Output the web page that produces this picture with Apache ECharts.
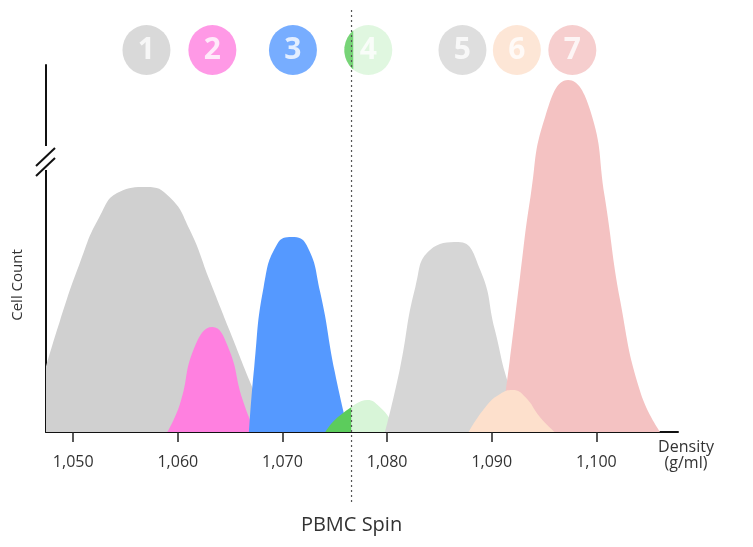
<!DOCTYPE html>
<html>
<head>
<meta charset="UTF-8">
<script src="https://cdn.jsdelivr.net/npm/echarts@6.0.0/dist/echarts.min.js"></script>
</head>
<body style="margin:0">
<div id="main" style="width:753px;height:547px;"></div>
<script>
// density peaks, [density, cell count]
var cells1 = [[1047.3,62],[1048.7,110],[1050.6,168],[1052.5,215],[1054.4,240],[1057.0,245],[1059.2,235],[1061.1,203],[1063.1,150],[1065.0,100],[1066.9,50],[1068.3,15],[1069.2,0]];
var cells2 = [[1059.0,0],[1060.2,28],[1061.6,85],[1063.3,105],[1064.8,85],[1066.2,32],[1067.4,0]];
var cells3 = [[1066.8,0],[1067.3,65],[1068.2,145],[1069.5,188],[1070.9,195],[1072.3,187],[1073.6,140],[1075.0,60],[1076.3,0]];
var cells4a = [[1074.1,0],[1075.0,12],[1076.6,25]];
var cells4b = [[1076.6,25],[1078.1,32],[1079.3,25],[1080.5,10],[1081.2,0]];
var cells5 = [[1079.8,0],[1081.2,62],[1082.7,145],[1084.1,182],[1086.8,190],[1088.9,162],[1090.3,102],[1091.7,45],[1093.2,10],[1094.1,0]];
var cells6 = [[1087.8,0],[1089.4,25],[1090.8,38],[1092.0,42],[1093.2,35],[1094.6,15],[1096.0,0]];
var cells7 = [[1090.8,0],[1091.7,70],[1092.7,155],[1093.7,235],[1095.1,315],[1097.3,352],[1099.4,322],[1100.8,235],[1102.3,130],[1104.2,40],[1106.1,0]];
var badgeX = [1057.0, 1063.3, 1071.0, 1078.2, 1087.2, 1092.4, 1097.7];
var badgeLabels = ['1','2','3','4','5','6','7'];
var badgeColors = ['#d0d0d0','#ff80e0','#5599ff','#d8f5d8','#d6d6d6','#fde0cc','#f4c2c2'];
var tickValues = [1050,1060,1070,1080,1090,1100];
var spinDensity = 1076.6;

var chart = echarts.init(document.getElementById('main'));

function area(data, color, z) {
  return {type:'line', data:data, smooth:true, symbol:'none', z:z,
    lineStyle:{width:0}, areaStyle:{color:color, opacity:1}};
}

chart.setOption({
  animation:false,
  grid:{left:46, right:75, top:65, bottom:115},
  xAxis:{type:'value', min:1047.4, max:1107.8, splitLine:{show:false},
    axisLine:{lineStyle:{color:'#111', width:2}},
    axisTick:{customValues:tickValues, length:10, lineStyle:{color:'#222', width:1.5}},
    axisLabel:{customValues:tickValues, margin:22, fontFamily:'Open Sans', fontSize:16, color:'#333',
      formatter:function(v){return String(v).replace(/(\d)(\d{3})$/,'$1,$2');}}},
  yAxis:{type:'value', min:0, max:367, splitLine:{show:false}, axisLabel:{show:false},
    axisTick:{show:false}, axisLine:{show:true, lineStyle:{color:'#111', width:2}}},
  series:[
    area(cells1,'#d0d0d0',1),
    area(cells2,'#ff80e0',2),
    area(cells3,'#5599ff',3),
    area(cells4a,'#5ccc5c',4),
    area(cells4b,'#d8f5d8',4),
    area(cells5,'#d6d6d6',5),
    area(cells7,'#f4c2c2',6),
    area(cells6,'#fde0cc',7),
    {type:'scatter', clip:false, z:10, symbolSize:[48,50],
      data:badgeX.map(function(x,i){return {value:[x,382], itemStyle:{color:badgeColors[i]},
        label:{show:true, formatter:badgeLabels[i], color:'#fff', fontSize:30, fontWeight:'bold', fontFamily:'Open Sans'}};})},
    {type:'scatter', clip:false, z:11, symbol:'path://M19,10.8 A50,50 0 0,0 19,89.2 Z',
      symbolSize:[9,39], symbolOffset:[-19.5,0], itemStyle:{color:'#5ccc5c'},
      data:[[badgeX[3],382]]}
  ]
});

var sx = chart.convertToPixel({gridIndex:0},[spinDensity,0])[0];
chart.setOption({graphic:[
  {type:'line', shape:{x1:sx,y1:10,x2:sx,y2:505}, z:20, style:{stroke:'#555', lineWidth:1.2, lineDash:[2,3]}},
  {type:'rect', shape:{x:38,y:146,width:16,height:24}, z:20, style:{fill:'#fff'}},
  {type:'line', shape:{x1:36,y1:166,x2:55,y2:148}, z:21, style:{stroke:'#111', lineWidth:2}},
  {type:'line', shape:{x1:36,y1:176,x2:55,y2:158}, z:21, style:{stroke:'#111', lineWidth:2}},
  {type:'text', x:18, y:285, rotation:Math.PI/2, z:20, style:{text:'Cell Count', font:'15px "Open Sans"', fill:'#333', align:'center', verticalAlign:'middle'}},
  {type:'text', x:686, y:455, z:20, style:{text:'Density\n(g/ml)', font:'16px "Open Sans"', fill:'#333', align:'center', verticalAlign:'middle', lineHeight:16}},
  {type:'text', x:sx, y:525, z:20, style:{text:'PBMC Spin', font:'20px "Open Sans"', fill:'#333', align:'center', verticalAlign:'middle'}}
]});
</script>
</body>
</html>
